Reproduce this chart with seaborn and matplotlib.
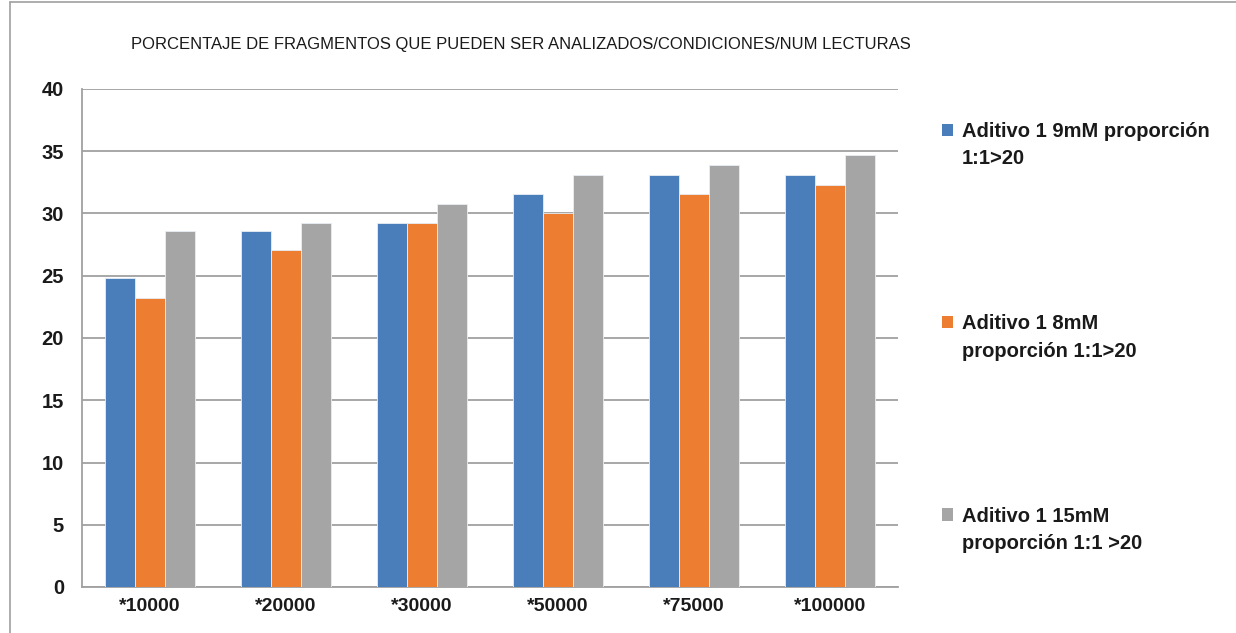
import matplotlib
matplotlib.use("Agg")
import matplotlib.pyplot as plt
from matplotlib.lines import Line2D
from matplotlib.patches import Patch, Rectangle
from matplotlib.legend_handler import HandlerPatch
from matplotlib.ticker import FixedLocator, MultipleLocator
import numpy as np
import pandas as pd
import seaborn as sns

# Number of reads per condition
categories = ["*10000", "*20000", "*30000", "*50000", "*75000", "*100000"]

series_names = [
    "Aditivo 1 9mM proporción\n1:1>20",
    "Aditivo 1 8mM\nproporción 1:1>20",
    "Aditivo 1 15mM\nproporción 1:1 >20",
]

aditivo_9mM = [24.8, 28.6, 29.25, 31.55, 33.08, 33.08]
aditivo_8mM = [23.23, 27.1, 29.25, 30.0, 31.55, 32.3]
aditivo_15mM = [28.6, 29.25, 30.77, 33.08, 33.9, 34.68]

colors = ["#4A7EBB", "#ED7D31", "#A5A5A5"]

title = "PORCENTAJE DE FRAGMENTOS QUE PUEDEN SER ANALIZADOS/CONDICIONES/NUM LECTURAS"

df = pd.DataFrame({
    "lecturas": categories * 3,
    "serie": [series_names[0]] * 6 + [series_names[1]] * 6 + [series_names[2]] * 6,
    "porcentaje": aditivo_9mM + aditivo_8mM + aditivo_15mM,
})

sns.set_theme(style="white")
plt.rcParams["font.family"] = ["Liberation Sans", "DejaVu Sans"]

LEGEND_SIZE = 14.5
LEGEND_LINESPACING = 1.55


class FirstLineSquare(HandlerPatch):
    """Legend square aligned with the first line of a two-line label."""

    def create_artists(self, legend, orig_handle, xdescent, ydescent,
                       width, height, fontsize, trans):
        shift = LEGEND_SIZE * LEGEND_LINESPACING / 2
        rect = Rectangle((-xdescent, -ydescent + shift), width, height,
                         facecolor=orig_handle.get_facecolor(), edgecolor="none")
        rect.set_transform(trans)
        return [rect]


W, H = 1236, 633
fig = plt.figure(figsize=(W / 100, H / 100), dpi=100)
ax = fig.add_axes([82 / W, 1 - 587 / H, (898 - 82) / W, (587 - 89) / H])

sns.barplot(
    data=df, x="lecturas", y="porcentaje", hue="serie",
    order=categories, hue_order=series_names, palette=colors,
    width=0.66, gap=0, saturation=1, edgecolor="#e8eef5", linewidth=0.6,
    ax=ax, legend=False, zorder=3,
)

ax.set_xlim(-0.5, len(categories) - 0.5)
ax.set_ylim(0, 40)
ax.yaxis.set_major_locator(MultipleLocator(5))
ax.grid(axis="y", color="#a0a0a0", linewidth=1.3, zorder=0)
ax.set_axisbelow(True)

for side in ["top", "right"]:
    ax.spines[side].set_visible(False)
for side in ["left", "bottom"]:
    ax.spines[side].set_color("#a0a0a0")
    ax.spines[side].set_linewidth(1.3)

ax.set_xlabel("")
ax.set_ylabel("")

# category separators below the x axis
ax.xaxis.set_minor_locator(FixedLocator(np.arange(-0.5, len(categories), 1.0)))
ax.tick_params(axis="x", which="major", length=0, pad=8, labelsize=14)
ax.tick_params(axis="x", which="minor", length=8, width=1.2, color="#a0a0a0", direction="out")
ax.tick_params(axis="y", which="major", length=6, width=1.3, color="#a0a0a0",
               direction="out", pad=7, labelsize=14.5)
for lab in ax.get_xticklabels() + ax.get_yticklabels():
    lab.set_fontweight("bold")
    lab.set_color("#1a1a1a")

fig.text(521 / W, 1 - 45 / H, title, ha="center", va="center",
         fontsize=12, color="#1a1a1a")

handles = [Patch(facecolor=c, edgecolor="none") for c in colors]
leg = fig.legend(handles, series_names, loc="upper left",
                 bbox_to_anchor=(934 / W, 1 - 114 / H), frameon=False,
                 prop={"weight": "bold", "size": LEGEND_SIZE},
                 handlelength=0.55, handleheight=0.55,
                 handletextpad=0.42, labelspacing=7.25, borderaxespad=0, alignment="left",
                 handler_map={Patch: FirstLineSquare()})
for t in leg.get_texts():
    t.set_linespacing(LEGEND_LINESPACING)
    t.set_color("#1a1a1a")

# chart frame
fig.add_artist(Line2D([10 / W, 1], [1 - 1.5 / H, 1 - 1.5 / H], transform=fig.transFigure,
                      color="#a0a0a0", linewidth=1.2))
fig.add_artist(Line2D([10 / W, 10 / W], [0, 1 - 1.5 / H], transform=fig.transFigure,
                      color="#a0a0a0", linewidth=1.2))

fig.savefig("out.png", dpi=100, facecolor="white")
